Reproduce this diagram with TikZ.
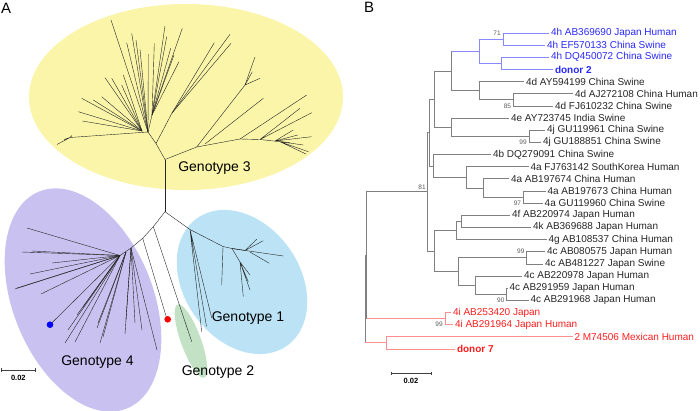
\documentclass[tikz,border=0pt]{standalone}
\usepackage{fontspec}
\setmainfont{Liberation Sans}
\usetikzlibrary{positioning,calc}
\definecolor{genoyellow}{RGB}{250,245,168}
\definecolor{genopurple}{RGB}{201,194,240}
\definecolor{genoblue}{RGB}{187,227,245}
\definecolor{genogreen}{RGB}{195,226,197}
\definecolor{cladeblue}{RGB}{40,40,255}
\definecolor{cladered}{RGB}{255,30,30}

\begin{document}
\begin{tikzpicture}[x=1pt, y=-1pt,
    leaf/.style={anchor=west, inner sep=1.8pt, font=\fontsize{10}{12}\selectfont, text=black!85},
    hleaf/.style={leaf, text=cladeblue},
    ileaf/.style={leaf, text=cladered},
    boot/.style={anchor=east, inner sep=0.6pt, font=\fontsize{6.5}{7}\selectfont, text=black!65},
    br/.style={draw=black!50, line width=0.7pt},
    hbr/.style={draw=cladeblue!55, line width=0.7pt},
    ibr/.style={draw=cladered!50, line width=0.7pt},
    rad/.style={draw=black!85, line width=0.4pt},
    geno/.style={font=\fontsize{14}{16}\selectfont, inner sep=0pt},
    panel/.style={font=\fontsize{15}{17}\selectfont, anchor=north west, inner sep=0pt},
    bar/.style={draw=black!75, line width=0.5pt},
    bartext/.style={font=\bfseries\fontsize{7.5}{8}\selectfont, inner sep=0pt}
  ]
  \useasboundingbox (0,0) rectangle (700,410);

  % ---------------- panel A: unrooted tree ----------------
  \node[panel] (pa) at (1,3) {A};

  \fill[genoyellow] (186,97) ellipse[x radius=157pt, y radius=93pt];
  \fill[genopurple, rotate around={-68:(83,300)}] (83,300) ellipse[x radius=117pt, y radius=70pt];
  \fill[genoblue, rotate around={-55:(242,282)}] (242,282) ellipse[x radius=78pt, y radius=58pt];
  \fill[genogreen, rotate around={-70:(191,341)}] (191,341) ellipse[x radius=39pt, y radius=10pt];

  \coordinate (top)  at (165,159.5);
  \coordinate (mid)  at (165,211.7);
  \coordinate (g3l)  at (156,143.5);
  \coordinate (g3ll) at (148,132);
  \coordinate (g3r)  at (196.7,147);
  \coordinate (g1a)  at (190,229.5);
  \coordinate (g1b)  at (223,246.5);
  \coordinate (g1c)  at (232,248.5);
  \coordinate (g2a)  at (153.3,226.7);
  \coordinate (g4a)  at (142.7,238.3);
  \coordinate (g4b)  at (131,248);
  \coordinate (g4c)  at (120,255.5);

  % genotype 3
  \draw[rad] (top) -- (mid);
  \draw[rad] (top) -- (g3l) -- (g3ll) -- (70,137.5);
  \draw[rad] (70,137.5) -- (57,144.5) (70,137.5) -- (64,139.5) (70,137.5) -- (72,135.5);
  \foreach \p in {(81.7,98.3),(78.3,111.7),(82.3,121),(93.3,100),(101.7,96.7),
                  (105,77.7),(111.7,78.3),(121.7,85),(123.3,75)}
    \draw[rad] (142,131) -- \p;
  \foreach \p in {(111,20),(126.7,42.7),(131.7,33.3),(136,40),(140,49.3),(148.3,54.3)}
    \draw[rad] (g3ll) -- \p;
  \draw[rad] (g3ll) -- (152,115);
  \foreach \p in {(154.3,43.3),(165,26),(166.7,36.7),(170.7,48.3),(174,55),(179,61.7),(182.3,28.3)}
    \draw[rad] (152,115) -- \p;
  \draw[rad] (g3l) -- (172,113);
  \foreach \p in {(214.3,42.7),(230,34.3),(231,43.3)}
    \draw[rad] (172,113) -- \p;
  \draw[rad] (top) -- (g3r) -- (245,85) -- (255,57);
  \draw[rad] (245,85) -- (252.3,71.7) (245,85) -- (260,78.3);
  \draw[rad] (205,144) -- (263.3,98.3);
  \draw[rad] (g3r) -- (240,139) -- (260,139.5) -- (280,141.7) -- (290,142.5);
  \draw[rad] (240,139) -- (306.7,95);
  \draw[rad] (260,139.5) -- (300,108.3) (260,139.5) -- (311.7,112.7);
  \draw[rad] (275,141) -- (293.3,130) (275,141) -- (297.7,135) (275,141) -- (311.7,136.7);
  \draw[rad] (280,141.7) -- (303.3,145) (280,141.7) -- (308.3,151.7) (280,141.7) -- (306,154);

  % genotype 1
  \draw[rad] (mid) -- (g1a) -- (g1b) -- (g1c);
  \draw[rad] (g1a) -- (201.7,331.7) (g1a) -- (211.7,318) (g1a) -- (206.5,326.5);
  \draw[rad] (g1b) -- (221.7,285);
  \draw[rad] (g1c) -- (245,250.5) -- (256.7,239.3) (245,250.5) -- (263.3,240.7);
  \draw[rad] (g1c) -- (283.3,256) (250,252) -- (269.3,263.3);
  \draw[rad] (g1c) -- (240,262) -- (250,275) (240,262) -- (248.3,281.7)
             (240,262) -- (243.3,296.7) (240,262) -- (250,290);

  % genotype 2 and the red sample
  \draw[rad] (mid) -- (g2a) -- (191.7,341.7);
  \draw[rad] (g2a) -- (g4a) -- (166.7,318.3);
  \fill[red] (167.7,319.3) circle[radius=3.3pt];

  % genotype 4
  \draw[rad] (g4a) -- (g4b) -- (g4c);
  \foreach \p in {(27,228),(22,252),(32,251),(15,289),(17,288),(30,274),(41,294),
                  (52,263),(50,324.7),(65,343),(68,330),(77,315),(83,307),(75,342)}
    \draw[rad] (g4c) -- \p;
  \foreach \p in {(100,343),(97,328),(103,337),(98,323)}
    \draw[rad] (126,252) -- \p;
  \foreach \p in {(125,334),(126,320),(135,323),(142,330),(157,350)}
    \draw[rad] (g4b) -- \p;
  \fill[blue] (50,324.7) circle[radius=3.3pt];

  \node[geno] (t3) at (214.5,168) {Genotype 3};
  \node[geno] (t1) at (248,318.5) {Genotype 1};
  \node[geno] (t4) at (97.5,362.5) {Genotype 4};
  \node[geno] (t2) at (218,372.5) {Genotype 2};

  \coordinate (sa1) at (1.7,370);
  \coordinate (sa2) at (35,370);
  \draw[bar] (sa1) -- (sa2);
  \draw[bar] ($(sa1)+(0,-1.8)$) -- ($(sa1)+(0,1.8)$);
  \draw[bar] ($(sa2)+(0,-1.8)$) -- ($(sa2)+(0,1.8)$);
  \node[bartext] (sal) at (18.3,377.8) {0.02};

  % ---------------- panel B: rooted tree ----------------
  \node[panel] (pb) at (364,2) {B};

  % leaves
  \node[hleaf] (l0)  at (549,33.00)   {4h AB369690 Japan Human};
  \node[hleaf] (l1)  at (545,45.15)   {4h EF570133 China Swine};
  \node[hleaf] (l2)  at (549,57.30)   {4h DQ450072 China Swine};
  \node[hleaf, font=\bfseries\fontsize{10}{12}\selectfont] (l3) at (553,69.45) {donor 2};
  \node[leaf]  (l4)  at (524,81.60)   {4d AY594199 China Swine};
  \node[leaf]  (l5)  at (573,93.75)   {4d AJ272108 China Human};
  \node[leaf]  (l6)  at (553,105.90)  {4d FJ610232 China Swine};
  \node[leaf]  (l7)  at (509,118.05)  {4e AY723745 India Swine};
  \node[leaf]  (l8)  at (545,130.20)  {4j GU119961 China Swine};
  \node[leaf]  (l9)  at (541,142.35)  {4j GU188851 China Swine};
  \node[leaf]  (l10) at (491,154.50)  {4b DQ279091 China Swine};
  \node[leaf]  (l11) at (528.5,166.65) {4a FJ763142 SouthKorea Human};
  \node[leaf]  (l12) at (509,178.80)  {4a AB197674 China Human};
  \node[leaf]  (l13) at (545.5,190.95) {4a AB197673 China Human};
  \node[leaf]  (l14) at (542.7,203.10) {4a GU119960 China Swine};
  \node[leaf]  (l15) at (510,215.25)  {4f AB220974 Japan Human};
  \node[leaf]  (l16) at (531,227.40)  {4k AB369688 Japan Human};
  \node[leaf]  (l17) at (546.5,239.55) {4g AB108537 China Human};
  \node[leaf]  (l18) at (545,251.70)  {4c AB080575 Japan Human};
  \node[leaf]  (l19) at (543,263.85)  {4c AB481227 Japan Swine};
  \node[leaf]  (l20) at (522,276.00)  {4c AB220978 Japan Human};
  \node[leaf]  (l21) at (507.5,288.15) {4c AB291959 Japan Human};
  \node[leaf]  (l22) at (528.5,300.30) {4c AB291968 Japan Human};
  \node[ileaf] (l23) at (451,312.45)  {4i AB253420 Japan};
  \node[ileaf] (l24) at (453,324.60)  {4i AB291964 Japan Human};
  \node[ileaf] (l25) at (572.5,336.75) {2 M74506 Mexican Human};
  \node[ileaf, font=\bfseries\fontsize{10}{12}\selectfont] (l26) at (455,348.90) {donor 7};

  % internal nodes
  \coordinate (n71) at (503,39.08);
  \coordinate (nb)  at (501.7,63.38);
  \coordinate (h1)  at (479.3,51.23);
  \coordinate (d2)  at (513.3,99.83);
  \coordinate (d)   at (479.3,90.71);
  \coordinate (h)   at (451.7,70.97);
  \coordinate (j)   at (529.3,136.28);
  \coordinate (e)   at (451,127.16);
  \coordinate (p1)  at (434,99.07);
  \coordinate (a3)  at (523.3,197.03);
  \coordinate (a2)  at (483.3,187.91);
  \coordinate (a1)  at (466.7,177.28);
  \coordinate (nn)  at (433,165.89);
  \coordinate (u)   at (429.3,132.48);
  \coordinate (f1)  at (461.7,221.33);
  \coordinate (f0)  at (456.7,230.44);
  \coordinate (c2)  at (526.7,257.78);
  \coordinate (c4)  at (506.7,294.23);
  \coordinate (c3)  at (475,285.11);
  \coordinate (c1)  at (458.3,271.44);
  \coordinate (lo)  at (434.5,250.94);
  \coordinate (n81) at (427.7,191.71);
  \coordinate (ii)  at (445,318.53);
  \coordinate (r1)  at (366.7,255.12);
  \coordinate (m)   at (386,342.83);
  \coordinate (r)   at (365,298.98);

  % branches
  \draw[hbr] (n71) |- (l0.west);
  \draw[hbr] (n71) |- (l1.west);
  \draw[hbr] (nb) |- (l2.west);
  \draw[hbr] (nb) |- (l3.west);
  \draw[hbr] (h1) |- (n71);
  \draw[hbr] (h1) |- (nb);
  \draw[br] (d2) |- (l5.west);
  \draw[br] (d2) |- (l6.west);
  \draw[br] (d) |- (l4.west);
  \draw[br] (d) |- (d2);
  \draw[br] (h) -- (h |- h1);
  \draw[hbr] (h |- h1) -- (h1);
  \draw[br] (h) |- (d);
  \draw[br] (j) |- (l8.west);
  \draw[br] (j) |- (l9.west);
  \draw[br] (e) |- (l7.west);
  \draw[br] (e) |- (j);
  \draw[br] (p1) |- (h);
  \draw[br] (p1) |- (e);
  \draw[br] (a3) |- (l13.west);
  \draw[br] (a3) |- (l14.west);
  \draw[br] (a2) |- (l12.west);
  \draw[br] (a2) |- (a3);
  \draw[br] (a1) |- (l11.west);
  \draw[br] (a1) |- (a2);
  \draw[br] (nn) |- (l10.west);
  \draw[br] (nn) |- (a1);
  \draw[br] (u) |- (p1);
  \draw[br] (u) |- (nn);
  \draw[br] (f1) |- (l15.west);
  \draw[br] (f1) |- (l16.west);
  \draw[br] (f0) |- (f1);
  \draw[br] (f0) |- (l17.west);
  \draw[br] (c2) |- (l18.west);
  \draw[br] (c2) |- (l19.west);
  \draw[br] (c4) |- (l21.west);
  \draw[br] (c4) |- (l22.west);
  \draw[br] (c3) |- (l20.west);
  \draw[br] (c3) |- (c4);
  \draw[br] (c1) |- (c2);
  \draw[br] (c1) |- (c3);
  \draw[br] (lo) |- (f0);
  \draw[br] (lo) |- (c1);
  \draw[br] (n81) |- (u);
  \draw[br] (n81) |- (lo);
  \draw[ibr] (ii) |- (l23.west);
  \draw[ibr] (ii) |- (l24.west);
  \draw[br] (r1) |- (n81);
  \draw[br] (r1) -- (r1 |- ii);
  \draw[ibr] (r1 |- ii) -- (ii);
  \draw[ibr] (m) |- (l25.west);
  \draw[ibr] (m) |- (l26.west);
  \draw[br] (r) |- (r1);
  \draw[br] (r) -- (r |- m);
  \draw[ibr] (r |- m) -- (m);

  % bootstrap values
  \node[boot] (b71) at (501.5,33.3)  {71};
  \node[boot] (b85) at (511.8,105.9) {85};
  \node[boot] (b99j) at (527.5,142.35) {99};
  \node[boot, anchor=south east] (b81) at (426.5,190.2) {81};
  \node[boot] (b97) at (521.8,203.1) {97};
  \node[boot] (b99c) at (525.2,251.7) {99};
  \node[boot] (b90) at (505.2,300.3) {90};
  \node[boot] (b99i) at (443.5,324.6) {99};

  \coordinate (sb1) at (391,373.3);
  \coordinate (sb2) at (431,373.3);
  \draw[bar] (sb1) -- (sb2);
  \draw[bar] ($(sb1)+(0,-1.8)$) -- ($(sb1)+(0,1.8)$);
  \draw[bar] ($(sb2)+(0,-1.8)$) -- ($(sb2)+(0,1.8)$);
  \node[bartext] (sbl) at (411,381.3) {0.02};
\end{tikzpicture}
\end{document}
